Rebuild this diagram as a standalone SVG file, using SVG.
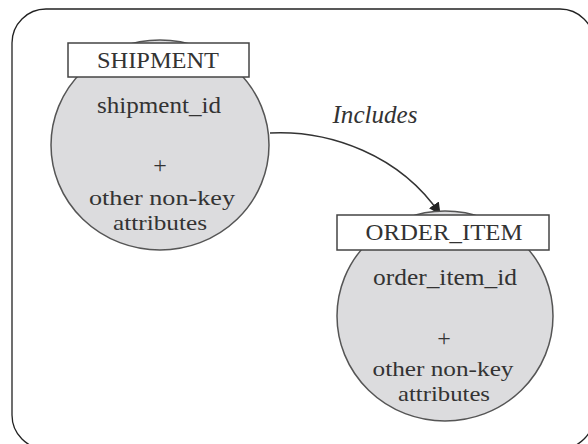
<svg xmlns="http://www.w3.org/2000/svg" width="588" height="444" viewBox="0 0 588 444">
<defs>
<style>
.frame{fill:#ffffff;stroke:#222;stroke-width:1.3}
.ent{fill:#dcdcde;stroke:#555;stroke-width:1.5}
.lbl{fill:#fff;stroke:#444;stroke-width:1.5}
text{font-family:"Liberation Serif","Times New Roman",serif;fill:#333;text-anchor:middle}
.t{font-size:23px}
.a{font-size:24px}
.b{font-size:22px}
.rel{font-size:25px;font-style:italic}
.conn{fill:none;stroke:#333;stroke-width:1.4}
</style>
<marker id="arr" viewBox="0 0 12 12" refX="11" refY="6" markerWidth="12" markerHeight="12" markerUnits="userSpaceOnUse" orient="auto">
<path d="M0,0 L12,6 L0,12 Z" fill="#222"/>
</marker>
</defs>
<rect x="0" y="0" width="588" height="444" fill="#fff"/>
<rect class="frame" x="12" y="9" width="582" height="440" rx="34" ry="34"/>
<g id="connectors">
<path class="conn" d="M270 133 C330 130,400 155,440 214" marker-end="url(#arr)"/>
<text class="rel" x="375" y="123" textLength="85" lengthAdjust="spacingAndGlyphs">Includes</text>
</g>
<g id="shipment">
<ellipse class="ent" cx="160" cy="145" rx="109" ry="105"/>
<rect class="lbl" x="68" y="43" width="181" height="34"/>
<text class="t" x="158" y="68" textLength="122" lengthAdjust="spacingAndGlyphs">SHIPMENT</text>
<text class="a" x="159" y="113" textLength="124" lengthAdjust="spacingAndGlyphs">shipment_id</text>
<text class="a" x="160" y="173">+</text>
<text class="b" x="162" y="205" textLength="146" lengthAdjust="spacingAndGlyphs">other non-key</text>
<text class="b" x="160" y="229.5" textLength="94" lengthAdjust="spacingAndGlyphs">attributes</text>
</g>
<g id="order_item">
<ellipse class="ent" cx="445" cy="316" rx="108" ry="105"/>
<rect class="lbl" x="337" y="215" width="212" height="35"/>
<text class="t" x="444" y="240" textLength="157" lengthAdjust="spacingAndGlyphs">ORDER_ITEM</text>
<text class="a" x="445" y="285" textLength="144" lengthAdjust="spacingAndGlyphs">order_item_id</text>
<text class="a" x="444" y="346">+</text>
<text class="b" x="443" y="376" textLength="141" lengthAdjust="spacingAndGlyphs">other non-key</text>
<text class="b" x="444" y="400.5" textLength="92" lengthAdjust="spacingAndGlyphs">attributes</text>
</g>
</svg>
